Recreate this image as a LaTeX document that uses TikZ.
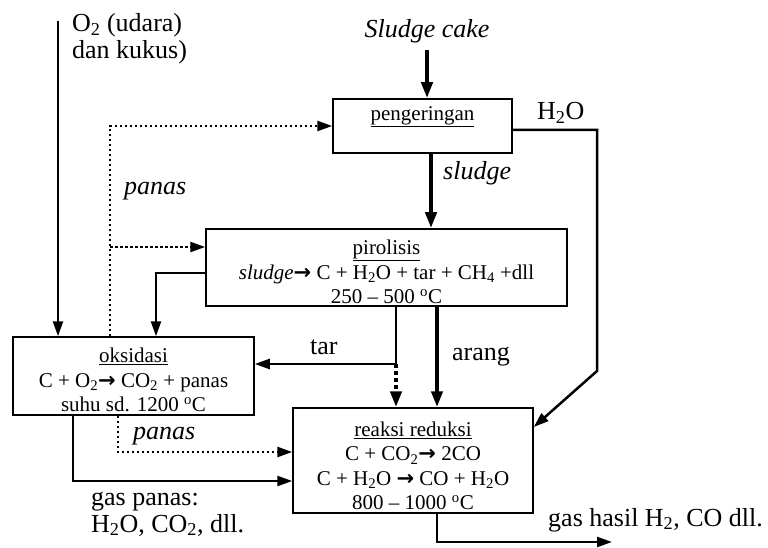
\documentclass[tikz,border=0pt]{standalone}
\usepackage{fontspec}
\setmainfont{Liberation Serif}
\newfontfamily\arrowfont{DejaVu Sans}
\usetikzlibrary{arrows.meta}
\newcommand{\rarr}{{\arrowfont\bfseries →}}
\newcommand{\degC}{\textsuperscript{o}C}
\begin{document}
\begin{tikzpicture}[x=1pt,y=-1pt,
  box/.style={draw, line width=1.5pt, inner sep=0pt},
  btxt/.style={font=\fontsize{21}{24.5}\selectfont, align=center, inner sep=0pt},
  lbl/.style={font=\fontsize{26}{27}\selectfont, inner sep=0pt, anchor=base west, align=left},
  tip/.style={-{Triangle[length=15pt,width=10pt]}},
  flow/.style={line width=2.5pt, tip},
  thickflow/.style={line width=4pt, -{Triangle[length=16pt,width=11pt]}},
  heat/.style={line width=2.5pt, dash pattern=on 2.5pt off 2.5pt, tip},
  heatthick/.style={line width=4pt, dash pattern=on 4pt off 3pt, -{Triangle[length=16pt,width=11pt]}},
  plain/.style={line width=2.5pt}
]
\useasboundingbox (0,0) rectangle (768,548);

% boxes
\node[box, minimum width=179pt, minimum height=54pt] (peng) at (422.5,126) {};
\node[box, minimum width=361pt, minimum height=77pt] (piro) at (386.5,267.5) {};
\node[box, minimum width=241pt, minimum height=78pt] (oks) at (133.5,376) {};
\node[box, minimum width=240pt, minimum height=105pt] (red) at (413,460.5) {};

% box texts
\node[btxt] (pengT) at (422.5,117) {\underline{pengeringan}};
\node[btxt] (piroT) at (386.5,272) {\underline{pirolisis}\\
  \textit{sludge}\rarr{} C + H\textsubscript{2}O + tar + CH\textsubscript{4} +dll\\
  250 – 500 \degC};
\node[btxt] (oksT) at (133.5,380) {\underline{oksidasi}\\
  C + O\textsubscript{2}\rarr{} CO\textsubscript{2} + panas\\
  suhu sd. 1200 \degC};
\node[btxt] (redT) at (413,466) {\underline{reaksi reduksi}\\
  C + CO\textsubscript{2}\rarr{} 2CO\\
  C + H\textsubscript{2}O \rarr{} CO + H\textsubscript{2}O\\
  800 – 1000 \degC};

% labels
\node[lbl] (o2L) at (72,59) {O\textsubscript{2} (udara)\\dan kukus)};
\node[lbl, anchor=base] (scL) at (427,38) {\textit{Sludge cake}};
\node[lbl] (h2oL) at (537,120) {H\textsubscript{2}O};
\node[lbl] (slL) at (443,180) {\textit{sludge}};
\node[lbl] (pan1L) at (124,195) {\textit{panas}};
\node[lbl] (tarL) at (310,354) {tar};
\node[lbl] (arL) at (452,360) {arang};
\node[lbl] (pan2L) at (133,439) {\textit{panas}};
\node[lbl] (gpL) at (91,532) {gas panas:\\H\textsubscript{2}O, CO\textsubscript{2}, dll.};
\node[lbl] (ghL) at (548,526) {gas hasil H\textsubscript{2}, CO dll.};

% helper coordinates
\coordinate (o2top) at (58,21);
\coordinate (sctop) at (427,50);
\coordinate (sl) at (431,0);
\coordinate (pv) at (110,0);
\coordinate (pb) at (110,247);
\coordinate (po) at (156,273);
\coordinate (tj) at (396,364);
\coordinate (ar) at (437,0);
\coordinate (hr) at (597,130);
\coordinate (hc) at (597,371);
\coordinate (hy) at (0,427);
\coordinate (gb) at (73,481);
\coordinate (pd) at (118,452);
\coordinate (oc) at (437,542);
\coordinate (oe) at (612,542);

% connectors
\draw[flow] (o2top) -- (o2top |- oks.north);
\draw[thickflow] (sctop) -- (sctop |- peng.north);
\draw[thickflow] (sl |- peng.south) -- (sl |- piro.north);
\draw[heat] (pv |- oks.north) -- (pv |- peng.west) -- (peng.west);
\draw[heat] (pb) -- (pb -| piro.west);
\draw[flow] (po -| piro.west) -- (po) -- (po |- oks.north);
\draw[flow] (tj |- piro.south) -- (tj) -- (tj -| oks.east);
\draw[heatthick] (tj) -- (tj |- red.north);
\draw[thickflow] (ar |- piro.south) -- (ar |- red.north);
\draw[flow] (hr -| peng.east) -- (hr) -- (hc) -- (red.east |- hy);
\draw[flow] (gb |- oks.south) -- (gb) -- (gb -| red.west);
\draw[heat] (pd |- oks.south) -- (pd) -- (pd -| red.west);
\draw[flow] (oc |- red.south) -- (oc) -- (oe);
\end{tikzpicture}
\end{document}
